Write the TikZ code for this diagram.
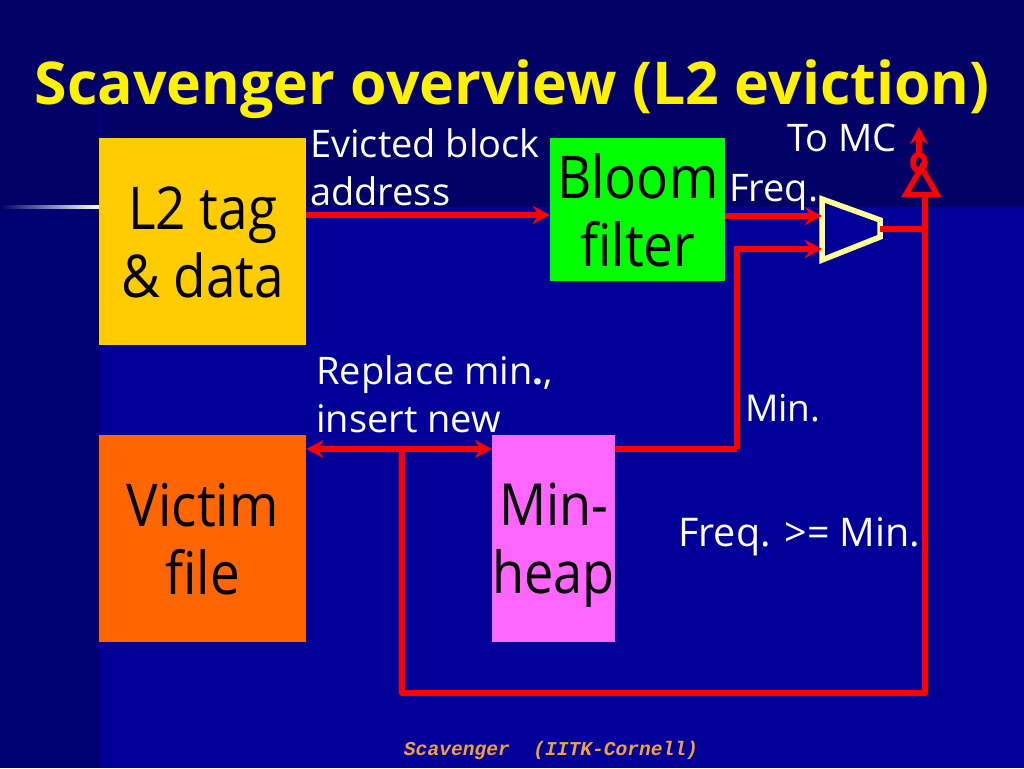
\documentclass[tikz,border=0pt]{standalone}
\usepackage{fontspec}
\setmainfont{Open Sans}
\newfontfamily\blockfont[FakeStretch=0.9]{Open Sans}
\newfontfamily\footfont{Liberation Mono}
\usetikzlibrary{positioning, shapes.geometric, arrows.meta, calc}
\definecolor{slideblue}{HTML}{000099}
\definecolor{slidenavy}{HTML}{000066}
\definecolor{stripblue}{HTML}{000072}
\definecolor{wirered}{HTML}{FF0000}
\definecolor{muxyellow}{HTML}{FFFF99}
\definecolor{footorange}{HTML}{F0A040}
\definecolor{tagyellow}{HTML}{FFCC00}
\definecolor{victimorange}{HTML}{FF6600}
\definecolor{heappink}{HTML}{FF66FF}
\tikzset{
  blockbox/.style={anchor=north west, inner sep=0pt, align=center, text=black, text depth=-4pt, font=\blockfont\fontsize{59}{68}\selectfont},
  wirelabel/.style={anchor=west, inner sep=0pt, align=left, text=white, font=\fontsize{38}{48}\selectfont},
  titletext/.style={font=\fontsize{59}{62}\selectfont\bfseries},
  wire/.style={draw=wirered, line width=5.5pt},
  wirearrow/.style={wire, -{Stealth[length=17pt,width=18pt]}}
}
\begin{document}
\begin{tikzpicture}[x=1pt,y=-1pt]
                    \useasboundingbox (0,0) rectangle (1024,768);
                    % background
                    \fill [slideblue] (0,0) rectangle (1024,768);
                    \fill [slidenavy] (0,0) rectangle (1024,207);
                    \fill [stripblue] (0,207) rectangle (100,768);
                    \shade [left color=slidenavy, middle color=blue!80!cyan, right color=white] (0,205) rectangle (99,208);
                    \shade [top color=slidenavy, bottom color=blue!70!black] (99,100) rectangle (101,138);

                    \node (title) at (512,89) [titletext, text=yellow] {Scavenger overview (L2 eviction)};

                    \node (l2 tag)  at (99,138)  [blockbox, text depth=-12pt, fill=tagyellow, minimum width=207pt, minimum height=207pt] {L2 tag\\\& data};
                    \node (bloom)   at (550,138) [blockbox, fill=green, minimum width=175pt, minimum height=143pt] {Bloom\\filter};
                    \node (victim)  at (99,435)  [blockbox, text depth=-8pt, fill=victimorange, minimum width=207pt, minimum height=207pt] {Victim\\file};
                    \node (heap)    at (492,435) [blockbox, font=\blockfont\fontsize{58}{68}\selectfont, fill=heappink, minimum width=123pt, minimum height=207pt] {Min-\\heap};

                    \node (evicted) at (310,167) [wirelabel] {Evicted block\\address};
                    \node (replace) at (316,394) [wirelabel] {Replace min\textbf{.},\\insert new};
                    \node (to mc)   at (787,138) [wirelabel] {To MC};
                    \node (freq)    at (729,192) [wirelabel] {Freq.};
                    \node (min)     at (745,408) [wirelabel, font=\fontsize{37}{48}\selectfont] {Min.};
                    \node (compare) at (678,537) [wirelabel, font=\fontsize{39.5}{48}\selectfont] {Freq. >{}= Min.};
                    \node (footer)  at (551,750) [font=\footfont\itshape\bfseries\fontsize{19.6}{22}\selectfont, text=footorange] {Scavenger~~(IITK-Cornell)};

                    \node (buffer)  at (921.5,185.5) [draw=wirered, line width=5.5pt, regular polygon, regular polygon sides=3, inner sep=0pt, minimum size=36pt] {};
                    \node (bubble)  at (919,162.5) [draw=wirered, line width=5.5pt, ellipse, inner sep=0pt, minimum width=12pt, minimum height=16pt] {};
                    \coordinate (mux out) at (880,229);
                    \coordinate (mc)      at (919,127);
                    \coordinate (freq in) at (822,216);
                    \coordinate (min in)  at (822,249);
                    \coordinate (join)    at (925,229);
                    \coordinate (corner)  at (737,449);
                    \coordinate (tee)     at (402,449);
                    \coordinate (bottom)  at (402,693);

                    \draw [draw=muxyellow, line width=5.5pt] (822,199) -- (880,220) -- (880,237) -- (822,260) -- cycle;
                    \draw [wirearrow] (l2 tag.east |- 0,215) -- (bloom.west |- 0,215);
                    \draw [wirearrow] (bloom.east |- freq in) -- (freq in);
                    \draw [wire] (heap.east |- corner) -- (corner);
                    \draw [wirearrow] (corner) -- (corner |- min in) -- (min in);
                    \draw [wire, {Stealth[length=17pt,width=18pt]}-{Stealth[length=17pt,width=18pt]}] (victim.east |- tee) -- (heap.west |- tee);
                    \draw [wire, line join=round] (tee) -- (bottom) -- (bottom -| join) -- (join |- buffer.south);
                    \draw [wire] (mux out) -- (join);
                    \draw [wirearrow] (bubble.north) -- (mc);
\end{tikzpicture}
\end{document}
